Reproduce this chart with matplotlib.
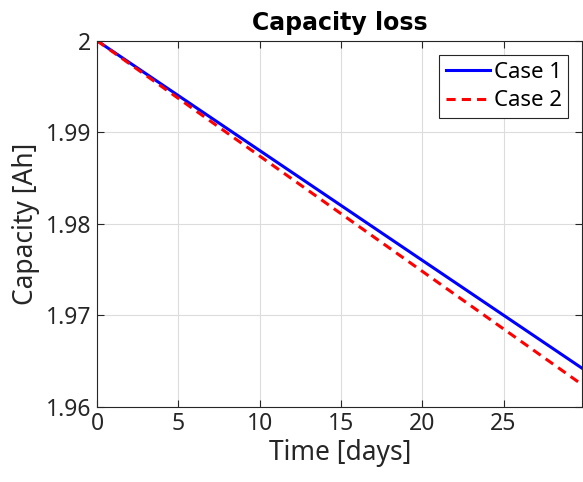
import matplotlib
matplotlib.use("Agg")
import matplotlib.pyplot as plt

# data
days = [0, 5, 10, 15, 20, 25, 30]
case1 = [2.0, 1.994, 1.988, 1.982, 1.976, 1.970, 1.964]
case2 = [2.0, 1.9937, 1.9874, 1.9811, 1.9748, 1.9685, 1.9622]
xticks = [0, 5, 10, 15, 20, 25]
yticks = [1.96, 1.97, 1.98, 1.99, 2.0]
ytick_labels = ['1.96', '1.97', '1.98', '1.99', '2']

plt.rcParams['font.family'] = ['Noto Sans', 'DejaVu Sans']
gray = '#262626'

fig = plt.figure(figsize=(5.83, 4.82), dpi=100)
ax = fig.add_axes([0.1664, 0.1562, 0.8326, 0.7594])

ax.plot(days, case1, color='#0000ff', lw=2.2, label='Case 1')
ax.plot(days, case2, color='#ff0000', lw=2.2, ls=(0, (3, 2)), label='Case 2')

ax.set_xlim(0, 29.85)
ax.set_ylim(1.96, 2.0)
ax.set_xticks(xticks)
ax.set_yticks(yticks)
ax.set_yticklabels(ytick_labels)
ax.tick_params(direction='in', length=5, width=0.8, colors=gray,
               labelsize=16.5, top=True, right=True, pad=4)
ax.grid(True, color='#dcdcdc', lw=0.8)
for s in ax.spines.values():
    s.set_color(gray)
    s.set_linewidth(0.8)

ax.set_xlabel('Time [days]', fontsize=19, color=gray, labelpad=2)
ax.set_ylabel('Capacity [Ah]', fontsize=19, color=gray, labelpad=4)
ax.set_title('Capacity loss', fontsize=17, fontweight='bold',
             family='DejaVu Sans', pad=8)

leg = ax.legend(loc='upper right', fontsize=16, frameon=True, fancybox=False,
                edgecolor=gray, framealpha=1, handlelength=2.0,
                handletextpad=0.15, borderpad=0.3, labelspacing=0.35,
                borderaxespad=0, bbox_to_anchor=(0.971, 0.961))
leg.get_frame().set_linewidth(0.8)

fig.savefig('out.png', dpi=100)
